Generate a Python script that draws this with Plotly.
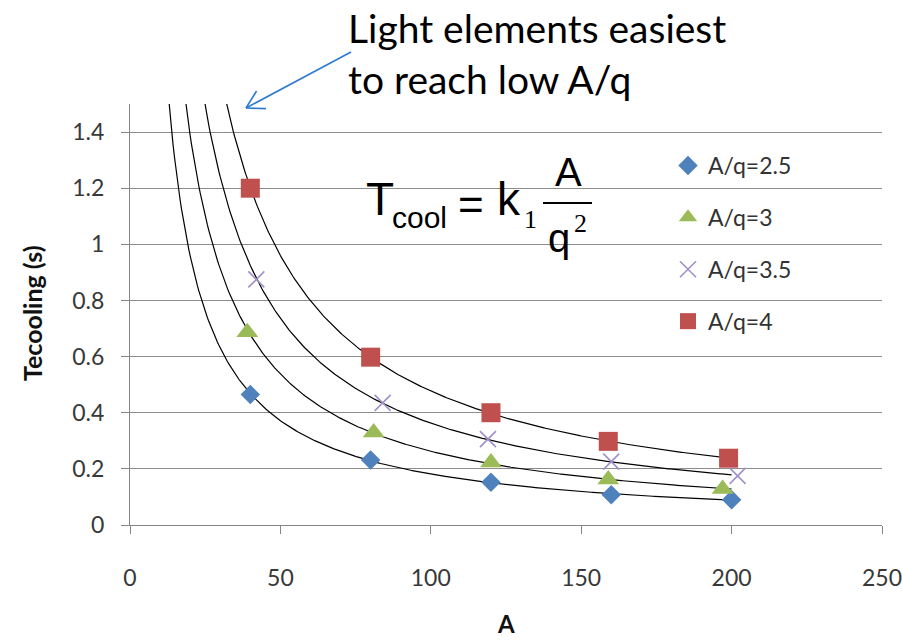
import numpy as np
import plotly.graph_objects as go

# ---------------- data ----------------
series_names = ["A/q=2.5", "A/q=3", "A/q=3.5", "A/q=4"]
A_25 = [40, 80, 120, 160, 200]
T_25 = [0.465, 0.232, 0.152, 0.108, 0.090]
A_3 = [39, 81, 120, 159, 197]
T_3 = [0.687, 0.330, 0.223, 0.162, 0.128]
A_35 = [42, 84, 119, 160, 202]
T_35 = [0.875, 0.435, 0.306, 0.226, 0.175]
A_4 = [40, 80, 120, 159, 199]
T_4 = [1.200, 0.598, 0.400, 0.298, 0.238]
x_ticks = [0, 50, 100, 150, 200, 250]
y_ticks = [0, 0.2, 0.4, 0.6, 0.8, 1, 1.2, 1.4]
trend_A_range = [10, 200]   # power-law trendline span (extended backward)

# ---------------- layout geometry (pixels) ----------------
W, H = 902, 640
L, R, T, B = 130, 20, 104, 115
PW, PH = W - L - R, H - T - B


def P(px, py):
    """pixel -> paper coords"""
    return (px - L) / PW, (H - B - py) / PH


styles = [
    dict(symbol="diamond", size=15, color="#4F81BD"),
    dict(symbol="triangle-up", size=19, color="#9BBB59"),
    dict(symbol="x-thin", size=16, color="#A090C8", line=dict(color="#A090C8", width=1.6)),
    dict(symbol="square", size=19, color="#C0504D"),
]

fig = go.Figure()
all_A = [A_25, A_3, A_35, A_4]
all_T = [T_25, T_3, T_35, T_4]

# power-law trend lines fitted to each series
A_grid = np.linspace(trend_A_range[0], trend_A_range[1], 400)
for A, Tv in zip(all_A, all_T):
    b, loga = np.polyfit(np.log(A), np.log(Tv), 1)
    fig.add_trace(go.Scatter(x=A_grid, y=np.exp(loga) * A_grid ** b, mode="lines",
                             line=dict(color="black", width=1.2), showlegend=False,
                             hoverinfo="skip"))

for i, (A, Tv, name, st) in enumerate(zip(all_A, all_T, series_names, styles)):
    fig.add_trace(go.Scatter(x=A, y=Tv, mode="markers", name=name, marker=st,
                             legendgroup=f"g{i}"))

axis_font = dict(family="Lato", size=23, color="#383838")
fig.update_layout(
    width=W, height=H,
    margin=dict(l=L, r=R, t=T, b=B, autoexpand=False),
    paper_bgcolor="white", plot_bgcolor="white",
    showlegend=True,
    legend=dict(x=P(668, 0)[0], y=P(0, 144)[1], xanchor="left", yanchor="top",
                font=dict(family="Lato", size=23, color="#333333"),
                traceorder="grouped", tracegroupgap=19, bgcolor="rgba(0,0,0,0)"),
    xaxis=dict(range=[0, 250], tickvals=x_ticks, showgrid=False, zeroline=False,
               showline=True, linecolor="#868686", linewidth=1.3,
               ticks="outside", ticklen=8, tickcolor="#868686", tickwidth=1.3,
               tickfont=axis_font, ticklabelstandoff=24, ticklabeloverflow="allow"),
    yaxis=dict(range=[0, 1.5], tickvals=y_ticks, showgrid=True, gridcolor="#8c8c8c",
               gridwidth=1.3, zeroline=False, showline=True, linecolor="#868686",
               linewidth=1.3, ticks="outside", ticklen=8, tickcolor="#868686",
               tickwidth=1.3, tickfont=axis_font, ticklabelstandoff=12),
)

ann = []
# axis titles
ann.append(dict(text="<b>A</b>", x=0.5, y=P(0, 623)[1], xref="paper", yref="paper",
                xanchor="center", yanchor="middle", showarrow=False,
                font=dict(family="Lato", size=24, color="#111")))
ann.append(dict(text="<b>Tecooling (s)</b>", x=P(32, 0)[0], y=P(0, 313)[1], xref="paper",
                yref="paper", xanchor="center", yanchor="middle", showarrow=False,
                textangle=-90, font=dict(family="Lato", size=25, color="#111")))
# callout text
ann.append(dict(text="Light elements easiest<br>to reach low A/q", x=P(346, 0)[0],
                y=P(0, 53)[1], xref="paper", yref="paper", xanchor="left", yanchor="middle",
                align="left", showarrow=False,
                font=dict(family="Lato", size=39, color="black")))

# equation pieces
sans = "Liberation Sans"
serif = "Liberation Serif"
eq = [
    ("T", 364, 198.5, 46, sans, "left"),
    ("cool", 390, 217.5, 30, sans, "left"),
    ("=", 471, 204, 44, sans, "center"),
    ("k", 495, 198.5, 46, sans, "left"),
    ("1", 530, 219, 26, serif, "center"),
    ("A", 568, 171.5, 40, sans, "center"),
    ("q", 559, 238, 40, sans, "center"),
    ("2", 580, 223, 26, serif, "center"),
]
for txt, px, py, fs, fam, xa in eq:
    x, y = P(px, py)
    ann.append(dict(text=txt, x=x, y=y, xref="paper", yref="paper", xanchor=xa,
                    yanchor="middle", showarrow=False,
                    font=dict(family=fam, size=fs, color="black")))
fig.update_layout(annotations=ann)

# fraction bar
x0, y0 = P(543, 203)
x1, y1 = P(592, 203)
shapes = [dict(type="line", xref="paper", yref="paper", x0=x0, y0=y0, x1=x1, y1=y1,
               line=dict(color="black", width=2))]

# callout arrow (open head)
tail = np.array([351.0, 52.0])
tip = np.array([246.0, 108.0])
u = (tail - tip) / np.linalg.norm(tail - tip)
arrow_col = "#2F7BD0"
segs = [(tail, tip)]
for ang in (np.radians(30), -np.radians(30)):
    rot = np.array([[np.cos(ang), -np.sin(ang)], [np.sin(ang), np.cos(ang)]])
    segs.append((tip, tip + 20 * rot @ u))
for a, b in segs:
    ax0, ay0 = P(*a)
    ax1, ay1 = P(*b)
    shapes.append(dict(type="line", xref="paper", yref="paper", x0=ax0, y0=ay0,
                       x1=ax1, y1=ay1, line=dict(color=arrow_col, width=1.6)))
fig.update_layout(shapes=shapes)

fig.write_html("out.html")
